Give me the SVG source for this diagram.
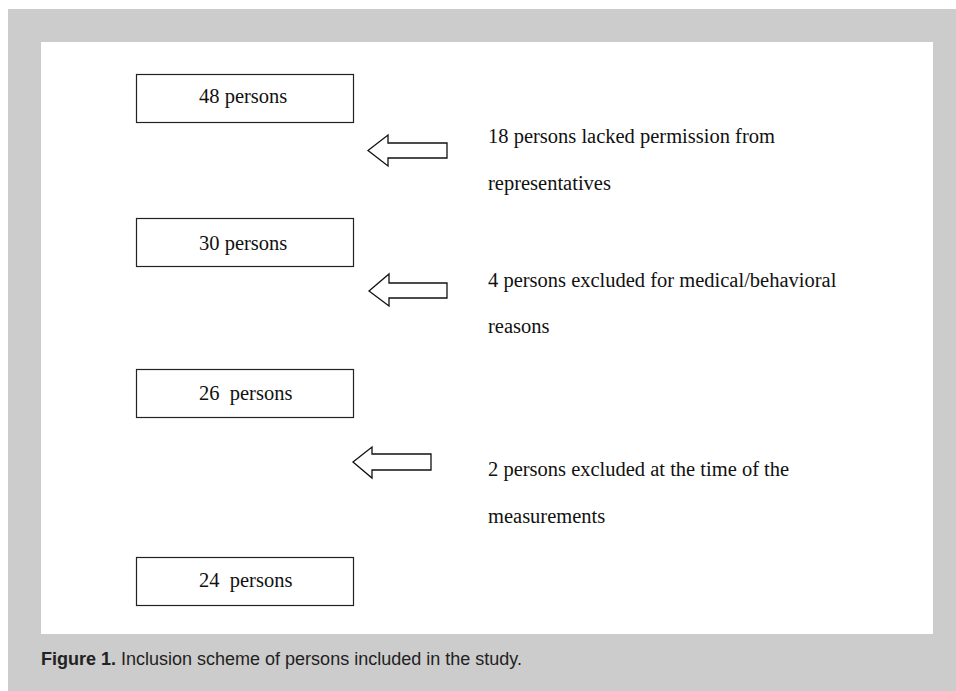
<svg xmlns="http://www.w3.org/2000/svg" width="956" height="691" viewBox="0 0 956 691">
<style>
.box{fill:#fff;stroke:#222;stroke-width:1.2}
.arr{fill:#fff;stroke:#111;stroke-width:1.3;stroke-linejoin:miter}
.t{font-family:"Liberation Serif","Times New Roman",serif;font-size:20.5px;fill:#111;white-space:pre}
.cap{font-family:"Liberation Sans",Arial,sans-serif;font-size:18px;fill:#222}
</style>
<rect x="0" y="0" width="956" height="691" fill="#fff"/>
<rect x="8" y="9" width="948" height="682" fill="#cccccc"/>
<rect x="41" y="42" width="892" height="592" fill="#fff"/>
<g id="node-48">
<rect class="box" x="136.5" y="74.5" width="217" height="48"/>
<text class="t" x="199" y="103">48 persons</text>
</g>
<g id="node-30">
<rect class="box" x="136.5" y="218.5" width="217" height="48"/>
<text class="t" x="199" y="250">30 persons</text>
</g>
<g id="node-26">
<rect class="box" x="136.5" y="369.5" width="217" height="48"/>
<text class="t" x="199" y="400" xml:space="preserve">26  persons</text>
</g>
<g id="node-24">
<rect class="box" x="136.5" y="557.5" width="217" height="48"/>
<text class="t" x="199" y="587" xml:space="preserve">24  persons</text>
</g>
<g id="connectors">
<polygon class="arr" points="368,150.5 388,135 388,143 447,143 447,158 388,158 388,166"/>
<polygon class="arr" points="369,291 389,274 389,283 447,283 447,298 389,298 389,306"/>
<polygon class="arr" points="353,462 372,447 372,454 431,454 431,470 372,470 372,478"/>
</g>
<g id="label-1">
<text class="t" x="488" y="143">18 persons lacked permission from</text>
<text class="t" x="488" y="190">representatives</text>
</g>
<g id="label-2">
<text class="t" x="488" y="287">4 persons excluded for medical/behavioral</text>
<text class="t" x="488" y="333">reasons</text>
</g>
<g id="label-3">
<text class="t" x="488" y="476">2 persons excluded at the time of the</text>
<text class="t" x="488" y="523">measurements</text>
</g>
<text class="cap" x="41" y="665"><tspan font-weight="bold">Figure 1.</tspan> Inclusion scheme of persons included in the study.</text>
</svg>
